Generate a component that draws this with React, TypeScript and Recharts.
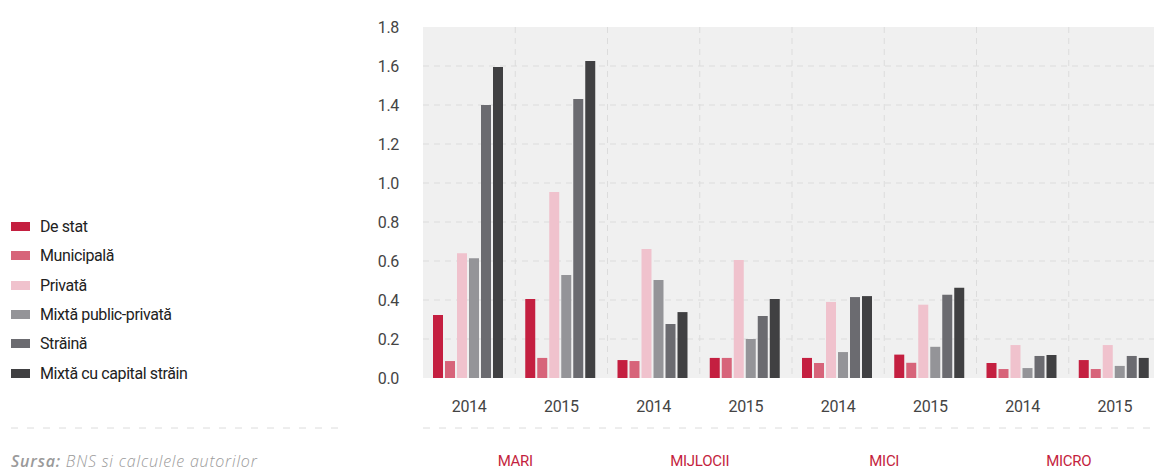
import { Bar, BarChart, CartesianGrid, XAxis, YAxis } from "recharts";

const YEARS = ["2014", "2015", "2014", "2015", "2014", "2015", "2014", "2015"];
const GROUPS = ["MARI", "MARI", "MIJLOCII", "MIJLOCII", "MICI", "MICI", "MICRO", "MICRO"];

const deStat = [0.323, 0.405, 0.092, 0.103, 0.103, 0.12, 0.077, 0.092];
const municipala = [0.087, 0.103, 0.087, 0.103, 0.077, 0.078, 0.046, 0.046];
const privata = [0.64, 0.954, 0.662, 0.605, 0.39, 0.376, 0.169, 0.169];
const mixtaPublicPrivata = [0.614, 0.528, 0.503, 0.2, 0.133, 0.16, 0.051, 0.062];
const straina = [1.4, 1.431, 0.277, 0.318, 0.415, 0.427, 0.113, 0.113];
const mixtaCapitalStrain = [1.595, 1.626, 0.338, 0.405, 0.42, 0.463, 0.118, 0.103];

const Y_TICKS = [0, 0.2, 0.4, 0.6, 0.8, 1.0, 1.2, 1.4, 1.6, 1.8];

const SERIES = [
  { key: "deStat", name: "De stat", values: deStat, color: "#c41f40" },
  { key: "municipala", name: "Municipală", values: municipala, color: "#d7647a" },
  { key: "privata", name: "Privată", values: privata, color: "#f0c2cd" },
  { key: "mixtaPP", name: "Mixtă public-privată", values: mixtaPublicPrivata, color: "#949498" },
  { key: "straina", name: "Străină", values: straina, color: "#6b6b70" },
  { key: "mixtaCap", name: "Mixtă cu capital străin", values: mixtaCapitalStrain, color: "#404042" },
];

const FONT = "Roboto, sans-serif";

const rows = YEARS.map((year, i) => {
  const row: Record<string, string | number> = { year, group: GROUPS[i] };
  for (const s of SERIES) row[s.key] = s.values[i];
  return row;
});

function SideLegend() {
  return (
    <div
      style={{
        position: "absolute",
        left: 11,
        top: 212,
        fontFamily: FONT,
        fontSize: 16,
        letterSpacing: -0.4,
        color: "#222",
      }}
    >
      {SERIES.map((s) => (
        <div key={s.key} style={{ display: "flex", alignItems: "center", height: 29.3 }}>
          <span style={{ width: 19, height: 9, background: s.color, marginRight: 10, display: "inline-block" }} />
          <span>{s.name}</span>
        </div>
      ))}
    </div>
  );
}

export default function App() {
  return (
    <div style={{ position: "absolute", left: 0, top: 0, width: 1154, height: 468, overflow: "hidden", background: "#fff" }}>
      <BarChart
        width={1170}
        height={468}
        data={rows}
        margin={{ top: 27, right: 9, bottom: 0, left: 363 }}
        barCategoryGap={10}
        barGap={2}
      >
        <CartesianGrid
          fill="#f0f0f0"
          stroke="#dcdcdc"
          strokeDasharray="6 5"
          horizontalCoordinatesGenerator={({ offset }: any) =>
            Y_TICKS.slice(1, -1).map((t) => offset.top + offset.height * (1 - t / 1.8))
          }
          verticalCoordinatesGenerator={({ offset }: any) =>
            YEARS.slice(1).map((_, i) => offset.left + ((i + 1) * offset.width) / YEARS.length)
          }
        />
        <XAxis
          dataKey="year"
          xAxisId={0}
          height={50}
          axisLine={false}
          tickLine={false}
          tickMargin={17}
          interval={0}
          tick={{ fontSize: 16, fill: "#444", fontFamily: FONT, letterSpacing: -0.3 }}
        />
        <XAxis
          dataKey="group"
          xAxisId={1}
          height={40}
          allowDuplicatedCategory={false}
          axisLine={{ stroke: "#dcdcdc", strokeDasharray: "7 9" }}
          tickLine={false}
          tickMargin={21}
          interval={0}
          tick={{ fontSize: 15, fill: "#c41f40", fontFamily: FONT, letterSpacing: -0.3 }}
        />
        <YAxis
          width={60}
          domain={[0, 1.8]}
          ticks={Y_TICKS}
          axisLine={false}
          tickLine={false}
          tickMargin={18}
          tickFormatter={(v: number) => v.toFixed(1)}
          tick={{ fontSize: 16, fill: "#444", fontFamily: FONT, letterSpacing: -0.3 }}
        />
        {SERIES.map((s) => (
          <Bar key={s.key} dataKey={s.key} name={s.name} fill={s.color} xAxisId={0} isAnimationActive={false} />
        ))}
      </BarChart>
      <SideLegend />
      <svg style={{ position: "absolute", left: 0, top: 420 }} width={360} height={16}>
        <line x1={11} x2={341} y1={8} y2={8} stroke="#dcdcdc" strokeDasharray="7 9" />
      </svg>
      <div
        style={{
          position: "absolute",
          left: 11,
          top: 450,
          fontFamily: "'Open Sans', sans-serif",
          fontStyle: "italic",
          fontSize: 16,
          letterSpacing: 0.8,
          color: "#9a9a9a",
          fontWeight: 300,
        }}
      >
        <b style={{ fontWeight: 600 }}>Sursa:</b> BNS si calculele autorilor
      </div>
    </div>
  );
}
